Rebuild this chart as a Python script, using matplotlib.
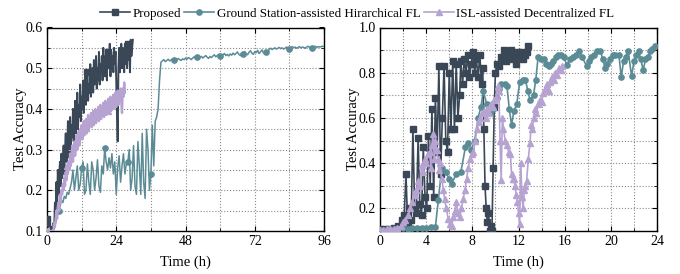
import numpy as np
import matplotlib
matplotlib.use('Agg')
import matplotlib.pyplot as plt
from matplotlib.ticker import MultipleLocator, FormatStrFormatter
from matplotlib.lines import Line2D

plt.rcParams['font.family'] = ['Liberation Serif', 'DejaVu Serif']

# ---------------- Left panel data (time in h) ----------------
left_prop_acc = [
    0.13, 0.135, 0.11, 0.13, 0.125, 0.105, 0.10, 0.11,
    0.10, 0.12, 0.11, 0.17, 0.13, 0.22, 0.16, 0.25,
    0.19, 0.24, 0.27, 0.21, 0.29, 0.23, 0.26, 0.31,
    0.24, 0.30, 0.34, 0.27, 0.29, 0.37, 0.30, 0.33,
    0.38, 0.30, 0.36, 0.33, 0.40, 0.32, 0.35, 0.42,
    0.34, 0.39, 0.44, 0.35, 0.41, 0.38, 0.46, 0.37,
    0.43, 0.40, 0.47, 0.39, 0.44, 0.48, 0.41, 0.45,
    0.49, 0.42, 0.46, 0.44, 0.51, 0.43, 0.48, 0.50,
    0.44, 0.52, 0.46, 0.49, 0.53, 0.45, 0.50, 0.47,
    0.54, 0.46, 0.51, 0.49, 0.53, 0.47, 0.55, 0.50,
    0.48, 0.53, 0.51, 0.47, 0.54, 0.50, 0.52, 0.56,
    0.48, 0.54, 0.50, 0.53, 0.49, 0.55, 0.51, 0.54,
    0.47, 0.39, 0.32, 0.50, 0.55, 0.49, 0.53, 0.56,
    0.50, 0.55, 0.52, 0.49, 0.56, 0.51, 0.55, 0.50,
    0.56, 0.52, 0.55, 0.49, 0.57, 0.53, 0.55, 0.57,
]
left_prop_t = np.arange(len(left_prop_acc)) * 0.25

left_isl_acc = [
    0.10, 0.10, 0.10, 0.10, 0.10, 0.10, 0.10, 0.10,
    0.10, 0.105, 0.12, 0.11, 0.13, 0.15, 0.13, 0.16,
    0.17, 0.15, 0.19, 0.17, 0.20, 0.19, 0.215, 0.20,
    0.23, 0.21, 0.245, 0.225, 0.26, 0.24, 0.27, 0.25,
    0.29, 0.26, 0.28, 0.31, 0.27, 0.30, 0.32, 0.285,
    0.31, 0.335, 0.30, 0.32, 0.345, 0.31, 0.35, 0.33,
    0.36, 0.325, 0.345, 0.37, 0.335, 0.36, 0.375, 0.34,
    0.37, 0.385, 0.345, 0.375, 0.36, 0.39, 0.355, 0.38,
    0.395, 0.36, 0.38, 0.40, 0.365, 0.39, 0.375, 0.405,
    0.37, 0.395, 0.41, 0.375, 0.40, 0.385, 0.415, 0.38,
    0.405, 0.42, 0.385, 0.41, 0.395, 0.425, 0.39, 0.415,
    0.43, 0.395, 0.42, 0.405, 0.435, 0.40, 0.425, 0.44,
    0.405, 0.43, 0.445, 0.41, 0.44, 0.42, 0.45, 0.415,
    0.39, 0.45, 0.43, 0.465, 0.44,
]
left_isl_t = np.arange(len(left_isl_acc)) * 0.25

left_gs_acc = [
    # t = 0 .. 8
    0.10, 0.10, 0.10, 0.10, 0.10, 0.105, 0.12, 0.135, 0.15, 0.16,
    0.175, 0.17, 0.185, 0.18, 0.195, 0.19, 0.205,
    # t = 8.5 .. 39.5
    0.22, 0.25, 0.20, 0.23, 0.26, 0.20, 0.215, 0.255, 0.27, 0.19,
    0.20, 0.265, 0.22, 0.19, 0.27, 0.25, 0.20, 0.23, 0.275, 0.21,
    0.195, 0.26, 0.24, 0.305, 0.27, 0.25, 0.28, 0.255, 0.29, 0.24,
    0.27, 0.19, 0.255, 0.285, 0.22, 0.26, 0.29, 0.24, 0.265, 0.27,
    0.30, 0.20, 0.23, 0.31, 0.21, 0.19, 0.32, 0.26, 0.19, 0.34,
    0.22, 0.18, 0.35, 0.30, 0.20, 0.24, 0.36, 0.26, 0.37, 0.38,
    0.40, 0.47, 0.515,
    # t = 40 .. 96
    0.518, 0.521, 0.516, 0.519, 0.522, 0.518, 0.52, 0.523, 0.519, 0.521,
    0.52, 0.524, 0.521, 0.519, 0.523, 0.521, 0.525, 0.522, 0.526, 0.524,
    0.521, 0.525, 0.528, 0.524, 0.527, 0.523, 0.526, 0.529, 0.525, 0.528,
    0.531, 0.527, 0.524, 0.529, 0.526, 0.53, 0.533, 0.528, 0.531, 0.534,
    0.53, 0.528, 0.533, 0.536, 0.531, 0.534, 0.53, 0.535, 0.532, 0.537,
    0.533, 0.536, 0.54, 0.534, 0.531, 0.538, 0.535, 0.541, 0.536, 0.533,
    0.539, 0.543, 0.537, 0.534, 0.541, 0.538, 0.544, 0.536, 0.54, 0.545,
    0.538, 0.534, 0.541, 0.536, 0.547, 0.549, 0.546, 0.548, 0.55, 0.547,
    0.549, 0.551, 0.548, 0.55, 0.547, 0.549, 0.552, 0.55, 0.548, 0.551,
    0.553, 0.55, 0.552, 0.549, 0.551, 0.553, 0.55, 0.552, 0.551, 0.549,
    0.552, 0.554, 0.551, 0.553, 0.55, 0.552, 0.554, 0.551, 0.553, 0.552,
    0.553, 0.554, 0.553,
]
left_gs_t = np.arange(len(left_gs_acc)) * 0.5

# ---------------- Right panel data ----------------
right_prop_t = [0.0, 0.4, 0.8, 1.2, 1.6, 1.9, 2.1, 2.25, 2.4, 2.55,
                2.7, 2.85, 3.0, 3.15, 3.3, 3.45, 3.6, 3.75, 3.9, 4.05,
                4.2, 4.35, 4.5, 4.65, 4.8, 4.95, 5.1, 5.25, 5.4, 5.55,
                5.7, 5.85, 6.0, 6.15, 6.3, 6.45, 6.6, 6.75, 6.9, 7.0,
                7.15, 7.3, 7.45, 7.6, 7.75, 7.9, 8.05, 8.2, 8.35, 8.5,
                8.65, 8.8, 8.9, 9.0, 9.1, 9.2, 9.3, 9.4, 9.5, 9.6,
                9.7, 9.8, 9.9, 10.0, 10.15, 10.3, 10.45, 10.6, 10.75, 10.9,
                11.05, 11.2, 11.35, 11.5, 11.65, 11.8, 11.95, 12.1, 12.25, 12.4,
                12.55, 12.7, 12.85]
right_prop_acc = [0.11, 0.11, 0.11, 0.115, 0.12, 0.15, 0.17, 0.35, 0.13, 0.2,
                  0.15, 0.55, 0.2, 0.18, 0.51, 0.22, 0.17, 0.47, 0.25, 0.2,
                  0.52, 0.3, 0.64, 0.25, 0.69, 0.45, 0.83, 0.35, 0.6, 0.83,
                  0.5, 0.45, 0.8, 0.55, 0.85, 0.55, 0.84, 0.6, 0.7, 0.85,
                  0.75, 0.86, 0.8, 0.88, 0.78, 0.84, 0.89, 0.8, 0.86, 0.78,
                  0.88, 0.75, 0.82, 0.55, 0.3, 0.2, 0.14, 0.18, 0.1, 0.12,
                  0.1, 0.38, 0.65, 0.8, 0.84, 0.83, 0.87, 0.86, 0.9, 0.85,
                  0.89, 0.87, 0.9, 0.86, 0.88, 0.84, 0.89, 0.87, 0.89, 0.86,
                  0.88, 0.89, 0.92]

right_gs_t = [0, 0.4, 0.8, 1.2, 1.6, 2.0, 2.4, 2.8, 3.2, 3.6,
              4.0, 4.4, 4.8, 5.05, 5.35, 5.7, 6.0, 6.2, 6.6, 7.0,
              7.4, 7.65, 7.9, 8.2, 8.5, 8.75, 8.95, 9.25, 9.5, 9.8,
              10.1, 10.3, 10.5, 10.8, 11.0, 11.2, 11.4, 11.6, 11.85, 12.1,
              12.35, 12.6, 12.8, 13.0, 13.3, 13.5, 13.7, 13.95, 14.2, 14.4,
              14.6, 14.8, 15.0, 15.25, 15.45, 15.7, 15.9, 16.2, 16.45, 16.7,
              16.95, 17.2, 17.5, 17.9, 18.1, 18.3, 18.55, 18.8, 19.1, 19.3,
              19.5, 19.7, 19.9, 20.2, 20.4, 20.7, 20.9, 21.1, 21.3, 21.5,
              21.8, 22.0, 22.2, 22.4, 22.6, 22.8, 23.0, 23.2, 23.4, 23.6,
              23.8]
right_gs_acc = [0.105, 0.105, 0.107, 0.108, 0.11, 0.112, 0.11, 0.113, 0.112, 0.115,
                0.113, 0.116, 0.118, 0.235, 0.38, 0.36, 0.33, 0.31, 0.35, 0.36,
                0.47, 0.49, 0.46, 0.5, 0.6, 0.65, 0.72, 0.66, 0.62, 0.64,
                0.69, 0.73, 0.75, 0.75, 0.74, 0.64, 0.57, 0.63, 0.66, 0.76,
                0.77, 0.77, 0.72, 0.68, 0.70, 0.77, 0.87, 0.86, 0.86, 0.84,
                0.83, 0.84, 0.85, 0.87, 0.88, 0.88, 0.87, 0.835, 0.86, 0.87,
                0.88, 0.895, 0.87, 0.83, 0.85, 0.87, 0.88, 0.895, 0.895, 0.86,
                0.82, 0.84, 0.86, 0.88, 0.88, 0.88, 0.78, 0.85, 0.87, 0.895,
                0.785, 0.85, 0.88, 0.895, 0.86, 0.81, 0.86, 0.87, 0.895, 0.905,
                0.917]

right_isl_t = [0, 0.3, 0.6, 0.9, 1.2, 1.5, 1.8, 2.0, 2.2, 2.45,
               2.6, 2.8, 3.0, 3.15, 3.3, 3.45, 3.6, 3.75, 3.9, 4.0,
               4.15, 4.3, 4.4, 4.5, 4.6, 4.7, 4.8, 4.9, 5.0, 5.1,
               5.2, 5.35, 5.5, 5.6, 5.75, 5.9, 6.05, 6.2, 6.35, 6.5,
               6.6, 6.75, 6.9, 7.05, 7.2, 7.35, 7.5, 7.65, 7.8, 7.95,
               8.1, 8.25, 8.4, 8.55, 8.7, 8.85, 9.0, 9.15, 9.3, 9.45,
               9.6, 9.75, 9.9, 10.05, 10.2, 10.3, 10.4, 10.5, 10.6, 10.7,
               10.85, 11.0, 11.15, 11.3, 11.4, 11.5, 11.6, 11.7, 11.8, 11.9,
               12.0, 12.1, 12.2, 12.3, 12.4, 12.5, 12.6, 12.7, 12.85, 13.0,
               13.1, 13.2, 13.3, 13.4, 13.55, 13.7, 13.85, 14.0, 14.15, 14.3,
               14.45, 14.6, 14.75, 14.9, 15.05, 15.2, 15.35, 15.5, 15.65, 15.8]
right_isl_acc = [0.105, 0.105, 0.107, 0.108, 0.11, 0.112, 0.12, 0.14, 0.15, 0.17,
                 0.2, 0.23, 0.26, 0.28, 0.32, 0.30, 0.39, 0.36, 0.42, 0.40,
                 0.44, 0.45, 0.38, 0.48, 0.53, 0.42, 0.50, 0.46, 0.42, 0.37,
                 0.40, 0.33, 0.28, 0.24, 0.2, 0.155, 0.13, 0.12, 0.16, 0.19,
                 0.23, 0.18, 0.16, 0.2, 0.24, 0.28, 0.33, 0.38, 0.42, 0.44,
                 0.45, 0.5, 0.55, 0.58, 0.6, 0.62, 0.63, 0.6, 0.64, 0.62,
                 0.66, 0.65, 0.68, 0.69, 0.74, 0.72, 0.5, 0.325, 0.6, 0.55,
                 0.5, 0.48, 0.45, 0.44, 0.35, 0.33, 0.33, 0.3, 0.26, 0.23,
                 0.18, 0.13, 0.4, 0.25, 0.2, 0.28, 0.3, 0.32, 0.42, 0.49,
                 0.57, 0.55, 0.6, 0.64, 0.62, 0.66, 0.68, 0.67, 0.71, 0.73,
                 0.75, 0.72, 0.76, 0.78, 0.77, 0.8, 0.79, 0.82, 0.81, 0.83]

labels = ['Proposed', 'Ground Station-assisted Hirarchical FL', 'ISL-assisted Decentralized FL']
colors = ['#3a4757', '#5b8c95', '#b7a3d1']
markers = ['s', 'o', '^']

fig = plt.figure(figsize=(6.8, 2.74), dpi=100)
ax1 = fig.add_axes([47 / 680, 43 / 274, 277 / 680, 203.5 / 274])
ax2 = fig.add_axes([380 / 680, 43 / 274, 277 / 680, 203.5 / 274])

ax1.plot(left_prop_t, left_prop_acc, color=colors[0], lw=1.4, marker='s', ms=3.8,
         markevery=(0, 28), zorder=3)
ax1.plot(left_gs_t, left_gs_acc, color=colors[1], lw=1.1, marker='o', ms=3.8,
         markevery=(8, 16), zorder=3)
ax1.plot(left_isl_t, left_isl_acc, color=colors[2], lw=1.7, marker='^', ms=3.8,
         markevery=(0, 28), zorder=3)

ax2.plot(right_prop_t, right_prop_acc, color=colors[0], lw=1.2, marker='s', ms=3.8, zorder=3)
ax2.plot(right_gs_t, right_gs_acc, color=colors[1], lw=1.2, marker='o', ms=3.8, zorder=3)
ax2.plot(right_isl_t, right_isl_acc, color=colors[2], lw=1.2, marker='^', ms=3.8, zorder=3)

ax1.set_xlim(0, 96)
ax1.set_ylim(0.1, 0.6)
ax1.xaxis.set_major_locator(MultipleLocator(24))
ax1.xaxis.set_minor_locator(MultipleLocator(12))
ax1.yaxis.set_major_locator(MultipleLocator(0.1))
ax1.yaxis.set_minor_locator(MultipleLocator(0.05))

ax2.set_xlim(0, 24)
ax2.set_ylim(0.1, 1.0)
ax2.xaxis.set_major_locator(MultipleLocator(4))
ax2.xaxis.set_minor_locator(MultipleLocator(2))
ax2.set_yticks([0.2, 0.4, 0.6, 0.8, 1.0])
ax2.yaxis.set_minor_locator(MultipleLocator(0.1))

for ax in (ax1, ax2):
    ax.grid(True, which='both', linestyle=':', color='#8a8a8a', linewidth=0.8)
    ax.set_axisbelow(True)
    ax.tick_params(which='both', direction='in', top=True, right=True, labelsize=10, pad=3)
    ax.tick_params(which='major', length=3.5, width=0.8)
    ax.tick_params(which='minor', length=2, width=0.6)
    for s in ax.spines.values():
        s.set_linewidth(1.0)
    ax.set_xlabel('Time (h)', fontsize=10.5, labelpad=5)
    ax.set_ylabel('Test Accuracy', fontsize=10.5, labelpad=-1)
    ax.yaxis.set_major_formatter(FormatStrFormatter('%.1f'))

handles = [Line2D([], [], color=c, marker=m, ms=3.8, lw=1.2) for c, m in zip(colors, markers)]
fig.legend(handles, labels, loc='upper center', bbox_to_anchor=(357 / 680, 1.0), ncol=3,
           frameon=False, fontsize=9.4, handlelength=2.3, columnspacing=0.25, handletextpad=0.2,
           borderaxespad=0.2)

fig.savefig('out.png', dpi=100)
